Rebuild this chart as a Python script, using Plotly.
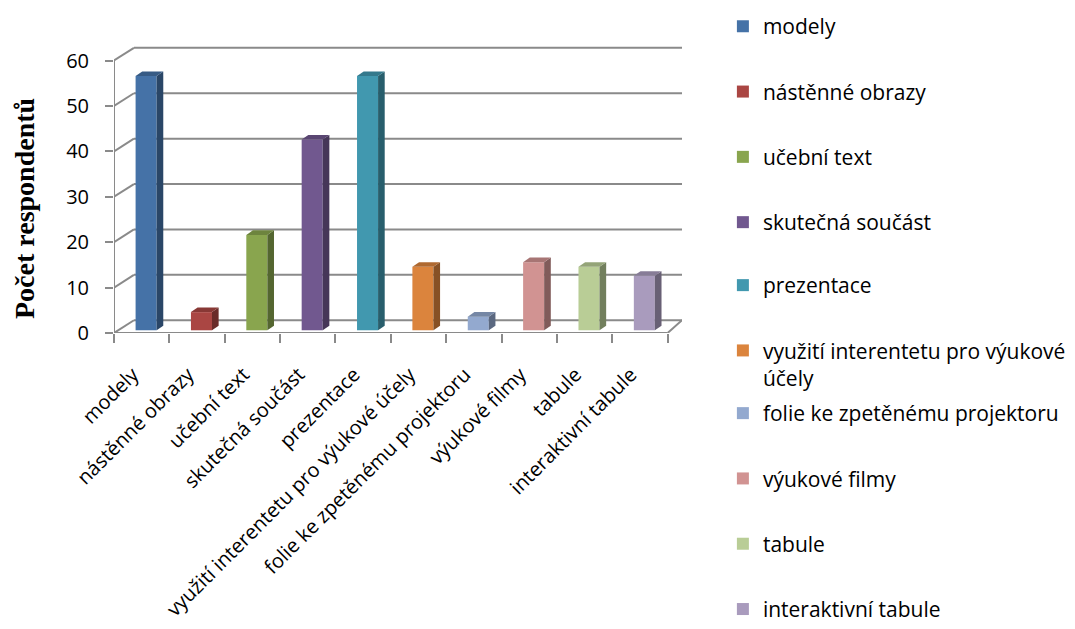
import plotly.graph_objects as go

categories = ["modely", "nástěnné obrazy", "učební text", "skutečná součást", "prezentace",
              "využití interentetu pro výukové účely", "folie ke zpetěnému projektoru",
              "výukové filmy", "tabule", "interaktivní tabule"]
legend_names = ["modely", "nástěnné obrazy", "učební text", "skutečná součást", "prezentace",
                "využití interentetu pro výukové<br>účely", "folie ke zpetěnému projektoru",
                "výukové filmy", "tabule", "interaktivní tabule"]
values = [56, 4, 21, 42, 56, 14, 3, 15, 14, 12]
colors = ["#4572A7", "#AA4643", "#89A54E", "#71588F", "#4198AF",
          "#DB843D", "#93A9CF", "#D19392", "#B9CD96", "#A99BBD"]
y_ticks = [0, 10, 20, 30, 40, 50, 60]
y_title = "Počet respondentů"
legend_of_item = ["legend"] * 4 + ["legend2"] * 2 + ["legend3"] * 4


def shade(hex_color, f):
    h = hex_color.lstrip("#")
    r, g, b = (int(h[i:i + 2], 16) for i in (0, 2, 4))
    return "rgb(%d,%d,%d)" % (int(r * f), int(g * f), int(b * f))


positions = list(range(len(categories)))
bar_shift = 0.08
bar_w = 0.38
bar_base = 0.6      # mid-depth plane offset of the pseudo-3D bars
depth_x = 0.12
depth_y = 1.0
wall_x = 0.36
wall_y = 2.8
x_min, x_max = -0.5, 9.76
grid_col = "#8a8a8a"

fig = go.Figure()
for i, (pos, v, col, nm) in enumerate(zip(positions, values, colors, legend_names)):
    fig.add_trace(go.Bar(
        x=[pos + bar_shift], y=[v], base=bar_base, width=bar_w,
        marker=dict(color=col, line=dict(width=0)),
        name=nm, legendgroup="g%d" % i, legend=legend_of_item[i],
        hoverinfo="skip"))

for i, (pos, v, col) in enumerate(zip(positions, values, colors)):
    xl = pos + bar_shift - bar_w / 2
    xr = pos + bar_shift + bar_w / 2
    b0 = bar_base
    top = v + bar_base
    fig.add_trace(go.Scatter(
        x=[xr, xr + depth_x, xr + depth_x, xr, xr],
        y=[b0, b0 + depth_y, top + depth_y, top, b0],
        fill="toself", fillcolor=shade(col, 0.62), mode="lines",
        line=dict(width=0, color=shade(col, 0.62)), showlegend=False, hoverinfo="skip"))
    fig.add_trace(go.Scatter(
        x=[xl, xl + depth_x, xr + depth_x, xr, xl],
        y=[top, top + depth_y, top + depth_y, top, top],
        fill="toself", fillcolor=shade(col, 0.8), mode="lines",
        line=dict(width=0, color=shade(col, 0.8)), showlegend=False, hoverinfo="skip"))

shapes = []
for t in y_ticks:
    shapes.append(dict(type="line", xref="x", yref="y", layer="below",
                       x0=x_min + wall_x, y0=t + wall_y, x1=x_max, y1=t + wall_y,
                       line=dict(color=grid_col, width=2)))
    shapes.append(dict(type="line", xref="x", yref="y", layer="below",
                       x0=x_min, y0=t, x1=x_min + wall_x, y1=t + wall_y,
                       line=dict(color=grid_col, width=2)))
shapes.append(dict(type="line", xref="x", yref="y", layer="below",
                   x0=x_min, y0=0, x1=9.5, y1=0, line=dict(color=grid_col, width=2)))
shapes.append(dict(type="line", xref="x", yref="y", layer="below",
                   x0=9.5, y0=0, x1=x_max, y1=wall_y, line=dict(color=grid_col, width=2)))
shapes.append(dict(type="line", xref="x", yref="y", layer="below",
                   x0=x_min, y0=0, x1=x_min, y1=max(y_ticks), line=dict(color=grid_col, width=2)))

boundaries = [p - 0.5 for p in positions] + [positions[-1] + 0.5]

leg_common = dict(x=1.072, xanchor="left", yanchor="top", tracegroupgap=35, valign="top",
                  font=dict(family="Open Sans", size=21, color="black"),
                  bgcolor="rgba(0,0,0,0)")

fig.update_layout(
    width=1075, height=629,
    margin=dict(l=114, r=393, t=46, b=296, autoexpand=False),
    paper_bgcolor="white", plot_bgcolor="white",
    barmode="overlay",
    shapes=shapes,
    font=dict(family="Open Sans", color="black"),
    xaxis=dict(range=[x_min, x_max], tickmode="array", tickvals=positions, ticktext=categories,
               tickangle=-45, ticks="", showgrid=False, zeroline=False, showline=False,
               automargin=False,
               tickfont=dict(family="Open Sans", size=20, color="black"),
               ticklabelstandoff=25, ticklabelshift=-9,
               minor=dict(tickmode="array", tickvals=boundaries, ticks="outside", ticklen=9,
                          tickcolor=grid_col, tickwidth=2, showgrid=False)),
    yaxis=dict(range=[0, 63.2], tickmode="array", tickvals=y_ticks, ticks="outside",
               ticklen=8, tickcolor=grid_col, tickwidth=2, showgrid=False, zeroline=False,
               showline=False, automargin=False, ticklabelstandoff=12,
               tickfont=dict(family="Open Sans", size=20, color="black")),
    annotations=[dict(text="<b>%s</b>" % y_title, xref="paper", yref="paper",
                      x=-0.1585, y=0.4355, xanchor="center", yanchor="middle",
                      textangle=-90, showarrow=False,
                      font=dict(family="Liberation Serif", size=28, color="black"))],
    legend=dict(y=1.139, **leg_common),
    legend2=dict(y=0.237, **leg_common),
    legend3=dict(y=-0.209, **leg_common),
)

fig.write_html("out.html")
